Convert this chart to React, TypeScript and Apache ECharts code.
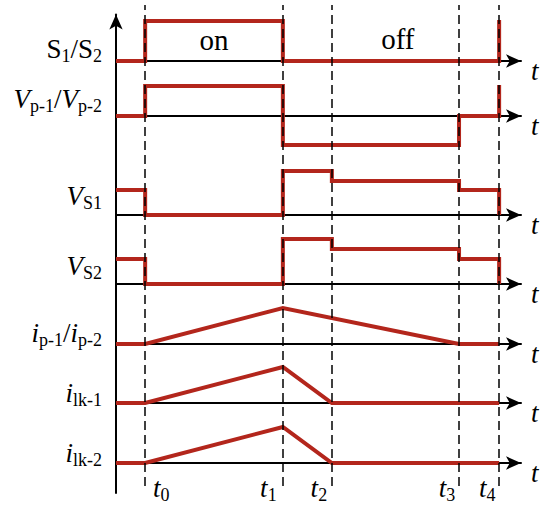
import React, { useEffect, useRef } from 'react';
import * as echarts from 'echarts';

const FONT = 'Liberation Serif';
const RED = '#b3261c';

// time instants t0..t4 (x-axis units, axis runs 0..10)
const timeMarks = ['0', '1', '2', '3', '4'];
const timeValues = [0.72, 4.12, 5.33, 8.47, 9.46];
const [T0, T1, T2, T3, T4] = timeValues;

const laneLabels = [
  '{r|S}{s|1}{r|/S}{s|2}',
  '{i|V}{s|p-1}{r|/}{i|V}{s|p-2}',
  '{i|V}{s|S1}',
  '{i|V}{s|S2}',
  '{i|i}{s|p-1}{r|/}{i|i}{s|p-2}',
  '{i|i}{s|lk-1}',
  '{i|i}{s|lk-2}',
];
// level (in lane units) at which each lane label is centred
const laneLabelLevels = [1.2, 1.7, 1.9, 1.8, 1.1, 1.0, 1.0];

// waveforms: [time, level]
const switchWave = [[0, 0], [T0, 0], [T0, 4.0], [T1, 4.0], [T1, 0], [T4, 0], [T4, 4.1]];
const primaryVoltage = [[0, 0], [T0, 0], [T0, 3.0], [T1, 3.0], [T1, -2.9], [T3, -2.9], [T3, 0], [T4, 0], [T4, 3.1]];
const vs1 = [[0, 2.5], [T0, 2.5], [T0, 0], [T1, 0], [T1, 4.4], [T2, 4.4], [T2, 3.4], [T3, 3.4], [T3, 2.5], [T4, 2.5], [T4, 0]];
const vs2 = [[0, 2.5], [T0, 2.5], [T0, 0], [T1, 0], [T1, 4.5], [T2, 4.5], [T2, 3.5], [T3, 3.5], [T3, 2.5], [T4, 2.5], [T4, 0]];
const ip = [[0, 0], [T0, 0], [T1, 3.6], [T3, 0], [T4, 0]];
const ilk1 = [[0, 0], [T0, 0], [T1, 3.6], [T2, 0], [T4, 0]];
const ilk2 = [[0, 0], [T0, 0], [T1, 3.6], [T2, 0], [T4, 0]];
const waves = [switchWave, primaryVoltage, vs1, vs2, ip, ilk1, ilk2];

// switch-state annotations on the first lane
const phaseLabels = ['on', 'off'];
const phaseTimes = [(T0 + T1) / 2, 6.96];
const phaseLevels = [2.1, 2.2];

// layout (pixels)
const laneBaselines = [61, 116, 215, 284, 344, 403, 463];
const tLabelOffsets = [16, -14.5, -13, -12, -12];
const GRID_LEFT = 116;
const GRID_RIGHT = 29;

const richStyles = {
  r: { fontFamily: FONT, fontSize: 27, lineHeight: 32, fill: '#000' },
  i: { fontFamily: FONT, fontSize: 27, fontStyle: 'italic', lineHeight: 32, fill: '#000' },
  s: { fontFamily: FONT, fontSize: 18, lineHeight: 18, verticalAlign: 'bottom', fill: '#000' },
  p: { fontFamily: FONT, fontSize: 29, lineHeight: 34, fill: '#000' },
};

export default function App() {
  const ref = useRef<HTMLDivElement>(null);
  useEffect(() => {
    if (!ref.current) return;
    const chart = echarts.init(ref.current, undefined, { renderer: 'svg' });
    const grids: any[] = [];
    const xAxes: any[] = [];
    const yAxes: any[] = [];
    const series: any[] = [];

    laneBaselines.forEach((b, i) => {
      grids.push({ left: GRID_LEFT, right: GRID_RIGHT, top: b - 50, height: 80 });
      xAxes.push({
        gridIndex: i, type: 'value', min: 0, max: 10,
        axisLine: { show: true, onZero: true, symbol: ['none', 'arrow'], symbolSize: [10, 15], lineStyle: { color: '#000', width: 2 } },
        axisTick: { show: false }, axisLabel: { show: false }, splitLine: { show: false },
      });
      yAxes.push({ gridIndex: i, type: 'value', min: -3, max: 5, show: false });
      series.push({
        type: 'line', xAxisIndex: i, yAxisIndex: i, data: waves[i], showSymbol: false, z: 3,
        lineStyle: { color: RED, width: 4, join: 'miter', cap: 'butt' },
      });
    });

    // vertical axis grid
    grids.push({ left: GRID_LEFT, right: GRID_RIGHT, top: 14.5, bottom: 17 });
    xAxes.push({ gridIndex: 7, type: 'value', min: 0, max: 10, show: false });
    yAxes.push({
      gridIndex: 7, type: 'value', min: 0, max: 1,
      axisLine: { show: true, onZero: false, symbol: ['none', 'arrow'], symbolSize: [10, 15], lineStyle: { color: '#000', width: 2 } },
      axisTick: { show: false }, axisLabel: { show: false }, splitLine: { show: false },
    });
    series.push({ type: 'line', xAxisIndex: 7, yAxisIndex: 7, data: [] });

    // dashed time markers grid
    grids.push({ left: GRID_LEFT, right: GRID_RIGHT, top: 5, bottom: 24 });
    xAxes.push({ gridIndex: 8, type: 'value', min: 0, max: 10, show: false });
    yAxes.push({ gridIndex: 8, type: 'value', min: 0, max: 1, show: false });
    series.push({
      type: 'line', xAxisIndex: 8, yAxisIndex: 8, z: 2, data: [],
      markLine: {
        silent: true, symbol: ['none', 'none'], label: { show: false },
        lineStyle: { color: '#000', width: 1.5, type: [9, 5] },
        data: timeValues.map((v) => ({ xAxis: v })),
      },
    });

    chart.setOption({
      animation: false,
      grid: grids,
      xAxis: xAxes,
      yAxis: yAxes,
      series,
    });

    // texts placed from the chart's own scales
    const graphic: any[] = [];
    laneLabels.forEach((txt, i) => {
      const p = chart.convertToPixel({ gridIndex: i }, [0, laneLabelLevels[i]]) as number[];
      graphic.push({
        type: 'text', x: p[0] - 14, y: p[1], silent: true,
        style: { text: txt, align: 'right', verticalAlign: 'middle', rich: richStyles },
      });
      const e = chart.convertToPixel({ gridIndex: i }, [10, 0]) as number[];
      graphic.push({
        type: 'text', x: e[0] + 10, y: e[1] + 10, silent: true,
        style: { text: '{i|t}', align: 'left', verticalAlign: 'middle', rich: richStyles },
      });
    });
    timeValues.forEach((v, k) => {
      const p = chart.convertToPixel({ gridIndex: 8 }, [v, 0]) as number[];
      graphic.push({
        type: 'text', x: p[0] + tLabelOffsets[k], y: p[1] + 2, silent: true,
        style: { text: `{i|t}{s|${timeMarks[k]}}`, align: 'center', verticalAlign: 'middle', rich: richStyles },
      });
    });
    phaseLabels.forEach((txt, k) => {
      const p = chart.convertToPixel({ gridIndex: 0 }, [phaseTimes[k], phaseLevels[k]]) as number[];
      graphic.push({
        type: 'text', x: p[0], y: p[1], silent: true,
        style: { text: `{p|${txt}}`, align: 'center', verticalAlign: 'middle', rich: richStyles },
      });
    });
    chart.setOption({ graphic });

    return () => chart.dispose();
  }, []);
  return <div ref={ref} style={{ width: 550, height: 510, position: 'absolute', left: 0, top: 0 }} />;
}
